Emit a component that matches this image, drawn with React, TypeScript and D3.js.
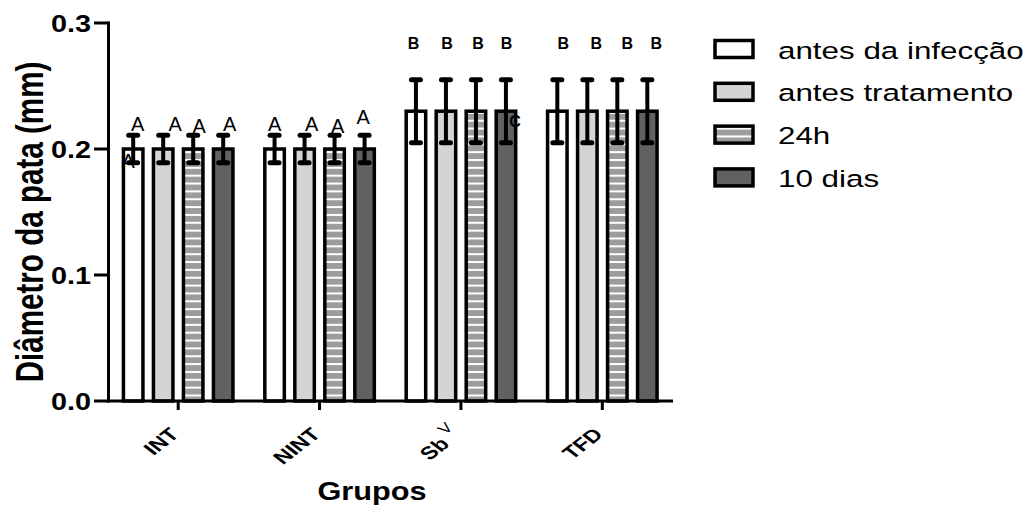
import React from "react";
import * as d3 from "d3";

// ---- data ----
const groups = ["INT", "NINT", "Sb", "TFD"];
const groupSuper = ["", "", "V", ""];
const series = ["antes da infecção", "antes tratamento", "24h", "10 dias"];

const antesInfeccao = [0.2, 0.2, 0.23, 0.23];
const antesTratamento = [0.2, 0.2, 0.23, 0.23];
const h24 = [0.2, 0.2, 0.23, 0.23];
const dias10 = [0.2, 0.2, 0.23, 0.23];

const errAntesInfeccao = [0.011, 0.011, 0.025, 0.025];
const errAntesTratamento = [0.011, 0.011, 0.025, 0.025];
const errH24 = [0.011, 0.011, 0.025, 0.025];
const errDias10 = [0.011, 0.011, 0.025, 0.025];

const yTicks = [0.0, 0.1, 0.2, 0.3];

// significance letters: group index, series index, text, value (y level)
const letterGroup = [0, 0, 0, 0, 0, 1, 1, 1, 1, 2, 2, 2, 2, 2, 3, 3, 3, 3];
const letterSeries = [0, 0, 1, 2, 3, 0, 1, 2, 3, 0, 1, 2, 3, 3, 0, 1, 2, 3];
const letterText = ["A", "A", "A", "A", "A", "A", "A", "A", "A", "B", "B", "B", "B", "C", "B", "B", "B", "B"];
const letterValue = [0.185, 0.2143, 0.2143, 0.2127, 0.2143, 0.2143, 0.2143, 0.2127, 0.22, 0.279, 0.279, 0.279, 0.279, 0.2175, 0.279, 0.279, 0.279, 0.279];

// ---- layout ----
const W = 1030;
const H = 512;
const letterNudge = [-5, 4.5, 12, 6, 6.5, 0, 7, 3, -1.5, -2.5, 1, 2, 0.5, 9, 6, 9, 10, 9];

const values = [antesInfeccao, antesTratamento, h24, dias10];
const errors = [errAntesInfeccao, errAntesTratamento, errH24, errDias10];
const fills = ["#ffffff", "#d4d4d4", "url(#stripes)", "#616161"];

export default function App() {
  const y = d3.scaleLinear().domain([0, 0.3]).range([401, 23]);
  const x0 = d3.scaleBand<string>().domain(groups).range([107.5, 673]).paddingInner(0).paddingOuter(0);
  const step = x0.step();
  const x1 = d3
    .scaleBand<string>()
    .domain(series)
    .range([step / 2 - 60, step / 2 + 60])
    .paddingInner(0.35)
    .paddingOuter(0.175);
  const bw = x1.bandwidth();
  const barCenter = (gi: number, si: number) =>
    (x0(groups[gi]) as number) + (x1(series[si]) as number) + bw / 2;

  const font = "'Liberation Sans', Arial, sans-serif";

  return (
    <svg width={W} height={H} style={{ position: "absolute", left: 0, top: 0, background: "#fff" }} fontFamily={font}>
      <defs>
        <pattern id="stripes" patternUnits="userSpaceOnUse" width={20} height={7.85} y={2}>
          <rect x={0} y={0} width={20} height={7.85} fill="#9c9c9c" />
          <rect x={0} y={0} width={20} height={2} fill="#ffffff" />
        </pattern>
      </defs>
      <rect x={0} y={0} width={W} height={H} fill="#fff" />

      {/* bars */}
      {groups.map((g, gi) =>
        series.map((s, si) => {
          const cx = barCenter(gi, si);
          const v = values[si][gi];
          return (
            <rect
              key={`b-${gi}-${si}`}
              x={cx - bw / 2}
              y={y(v)}
              width={bw}
              height={y(0) - y(v)}
              fill={fills[si]}
              stroke="#000"
              strokeWidth={3.5}
            />
          );
        })
      )}

      {/* letters */}
      {letterText.map((t, i) => {
        const cx = barCenter(letterGroup[i], letterSeries[i]) + letterNudge[i];
        const bold = t !== "A";
        return (
          <text
            key={`l-${i}`}
            x={cx}
            y={y(letterValue[i])}
            textAnchor="middle"
            fontSize={bold ? 16 : 20}
            fontWeight={bold ? "bold" : "normal"}
            fill="#000"
          >
            {t}
          </text>
        );
      })}

      {/* error bars */}
      {groups.map((g, gi) =>
        series.map((s, si) => {
          const cx = barCenter(gi, si);
          const v = values[si][gi];
          const e = errors[si][gi];
          return (
            <g key={`e-${gi}-${si}`} stroke="#000">
              <line x1={cx} x2={cx} y1={y(v - e)} y2={y(v + e)} strokeWidth={4} />
              <line x1={cx - 4.5} x2={cx + 4.5} y1={y(v + e)} y2={y(v + e)} strokeWidth={5} strokeLinecap="round" />
              <line x1={cx - 4.5} x2={cx + 4.5} y1={y(v - e)} y2={y(v - e)} strokeWidth={5} strokeLinecap="round" />
            </g>
          );
        })
      )}

      {/* y axis */}
      <line x1={108.5} x2={108.5} y1={y(0.3) - 1.5} y2={y(0) + 1.5} stroke="#000" strokeWidth={3} />
      {yTicks.map((t) => (
        <g key={`yt-${t}`}>
          <line x1={94} x2={108.5} y1={y(t)} y2={y(t)} stroke="#000" strokeWidth={3} />
          <text
            transform={`translate(91,${y(t) + 8.5}) scale(1.2,1)`}
            textAnchor="end"
            fontSize={24}
            fontWeight="bold"
          >
            {d3.format(".1f")(t)}
          </text>
        </g>
      ))}

      {/* x axis */}
      <line x1={107} x2={673} y1={401} y2={401} stroke="#000" strokeWidth={3} />
      {groups.map((g, gi) => {
        const cx = (x0(g) as number) + step / 2;
        return (
          <g key={`xt-${g}`}>
            <line x1={cx} x2={cx} y1={401} y2={410} stroke="#000" strokeWidth={3} />
            <text
              transform={`translate(${cx + 2},435.5) scale(1.3,1) rotate(-45)`}
              textAnchor="end"
              fontSize={18}
              fontWeight="bold"
            >
              {g}
              {groupSuper[gi] ? (
                <tspan dx={4} dy={-10} fontSize={14} fontWeight="normal">
                  {groupSuper[gi]}
                </tspan>
              ) : null}
            </text>
          </g>
        );
      })}

      {/* axis titles */}
      <text transform="translate(372,500) scale(1.18,1)" textAnchor="middle" fontSize={26} fontWeight="bold">
        Grupos
      </text>
      <text transform="translate(43,222) scale(1.32,1) rotate(-90)" textAnchor="middle" fontSize={29.6} fontWeight="bold">
        Diâmetro da pata (mm)
      </text>

      {/* legend */}
      {series.map((s, si) => {
        const cy = 49 + si * 42.8;
        return (
          <g key={`lg-${si}`}>
            <rect x={715} y={cy - 8.5} width={38} height={17} fill={fills[si]} stroke="#000" strokeWidth={3.5} />
            <text transform={`translate(778,${cy + 9.5}) scale(1.28,1)`} fontSize={24.5} fill="#000">
              {s}
            </text>
          </g>
        );
      })}
    </svg>
  );
}
